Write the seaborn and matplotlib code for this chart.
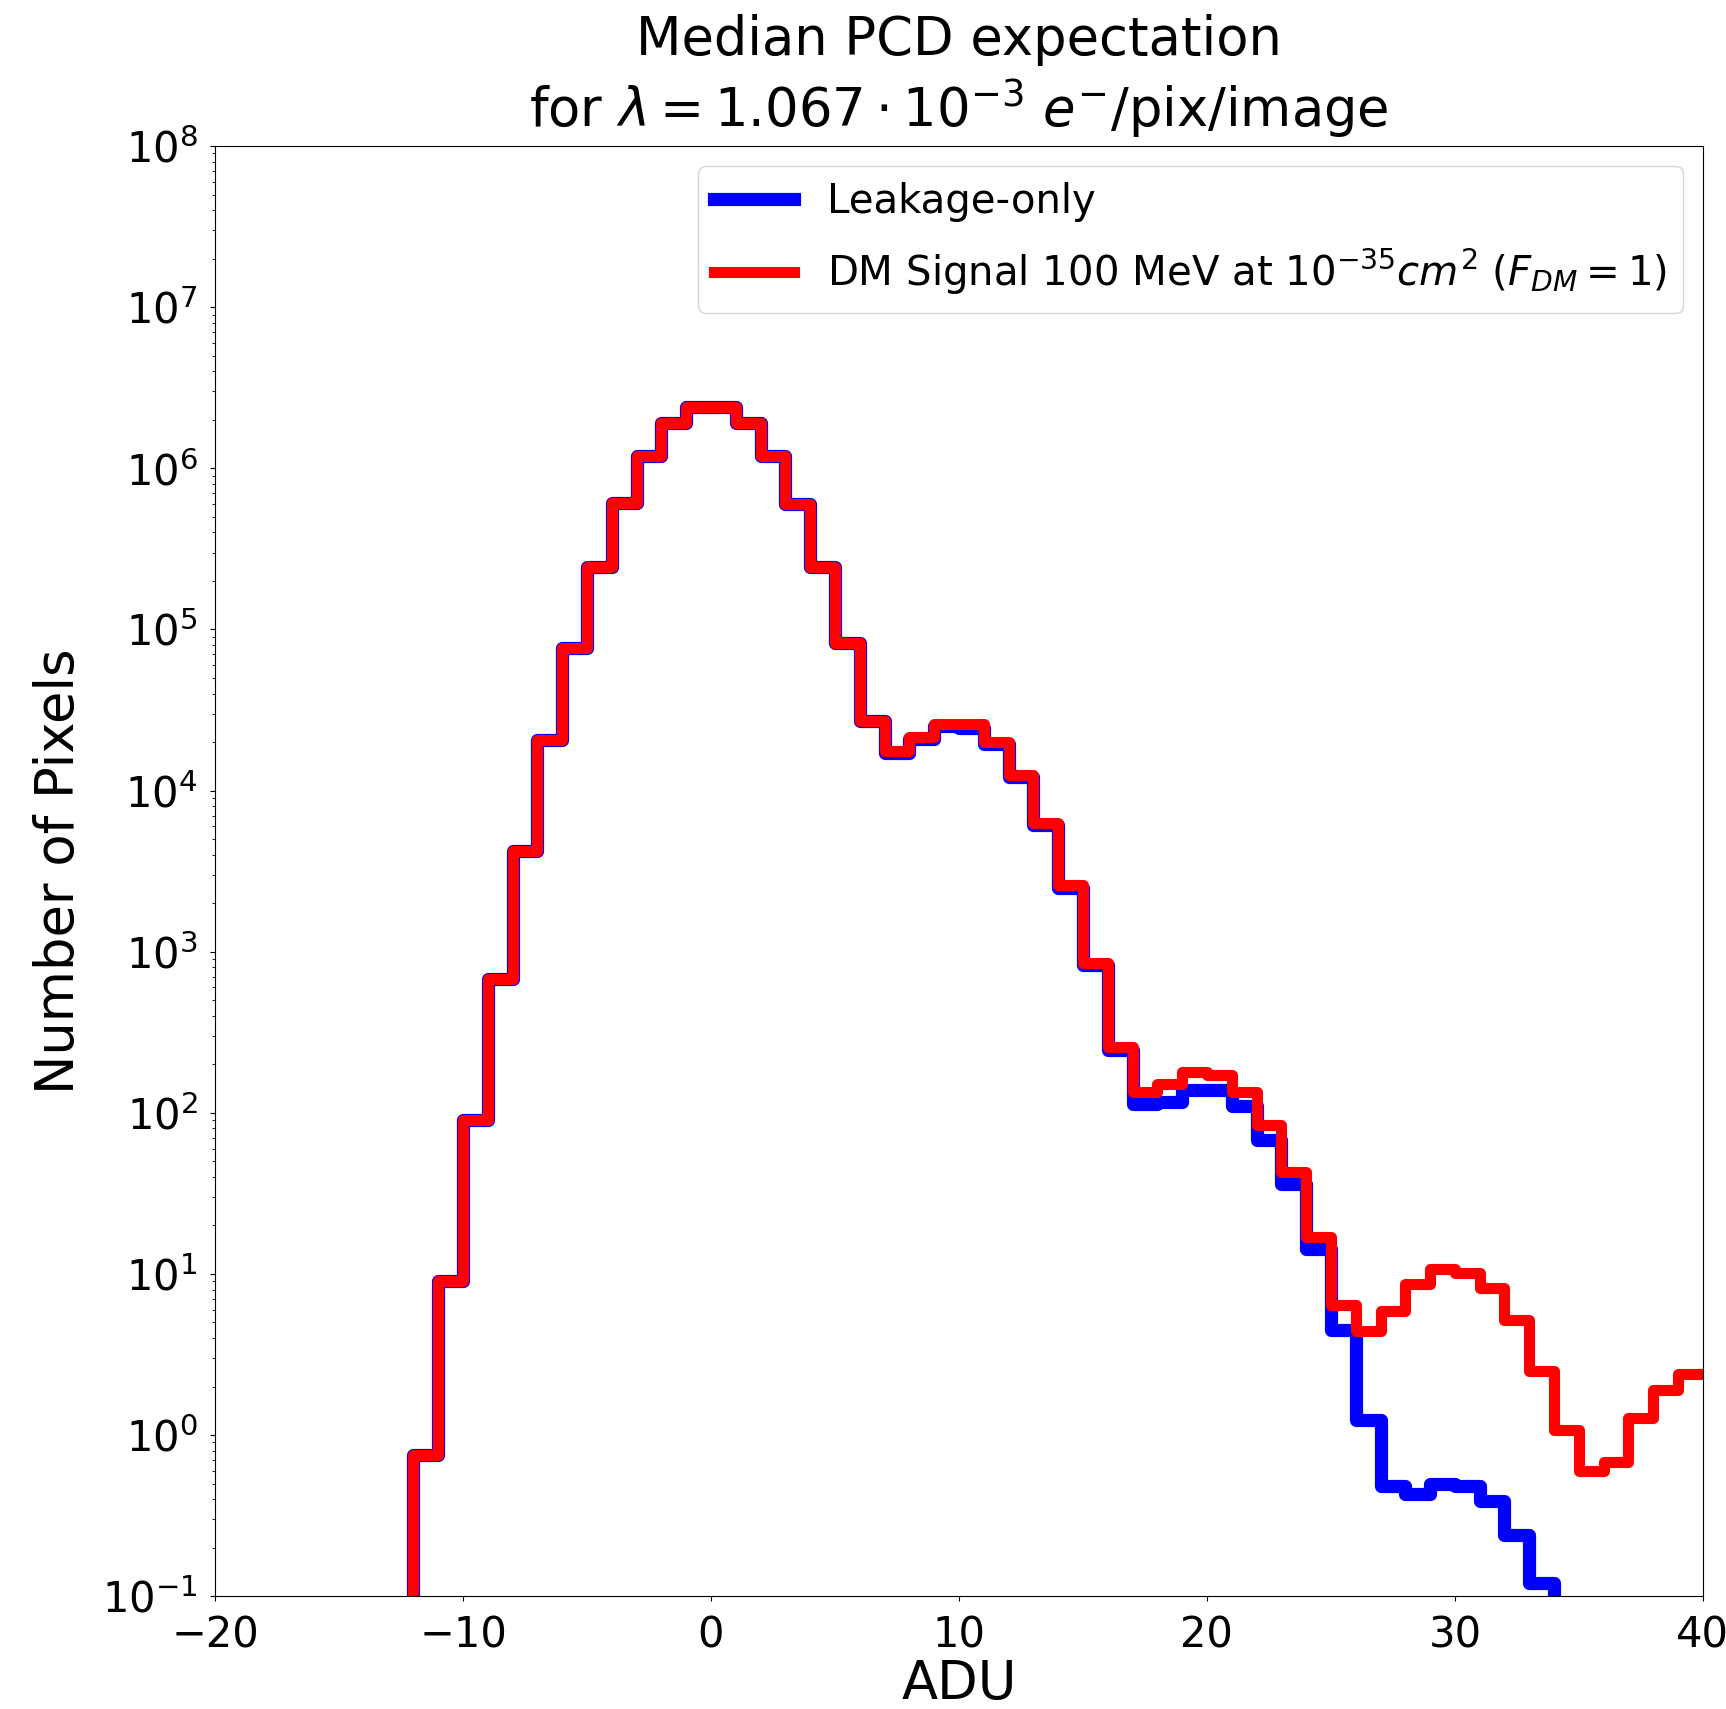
import numpy as np
import pandas as pd
import matplotlib
matplotlib.use("Agg")
import matplotlib.pyplot as plt
import seaborn as sns

# bin edges in ADU (unit width) and per-bin pixel counts
# (the first bin is empty so the step drops to the floor at -12)
bin_left = list(range(-13, 40))

leakage_counts = [
    0, 0.75, 9.0, 90, 680, 4200, 20500, 77000, 245000, 610000, 1.2e6,
    1.9e6, 2.4e6, 2.4e6, 1.9e6, 1.2e6, 6.0e5, 2.45e5, 8.2e4, 2.7e4, 1.72e4,
    2.1e4, 2.5e4, 2.45e4, 1.95e4, 1.22e4, 6.1e3, 2.5e3, 830, 245, 113,
    117, 138, 138, 110, 68, 36, 14.2, 4.5, 1.24, 0.48,
    0.43, 0.5, 0.48, 0.39, 0.24, 0.12, 0, 0, 0, 0,
    0, 0,
]

signal_counts = [
    0, 0.75, 9.0, 90, 680, 4200, 20500, 77000, 245000, 610000, 1.2e6,
    1.9e6, 2.4e6, 2.4e6, 1.9e6, 1.2e6, 6.0e5, 2.45e5, 8.2e4, 2.7e4, 1.75e4,
    2.15e4, 2.6e4, 2.6e4, 2.0e4, 1.25e4, 6.3e3, 2.6e3, 850, 255, 135,
    150, 178, 172, 134, 84, 43, 17, 6.4, 4.4, 5.9,
    8.7, 10.7, 10.2, 8.2, 5.2, 2.5, 1.07, 0.60, 0.68, 1.28,
    1.9, 2.4,
]

labels = ["Leakage-only", r"DM Signal 100 MeV at $10^{-35}cm^2$ ($F_{DM} = 1$)"]

edges = bin_left + [bin_left[-1] + 1]
df = pd.DataFrame({
    "adu": np.array(bin_left) + 0.5,
    "leak": leakage_counts,
    "sig": signal_counts,
})

fig = plt.figure(figsize=(17.26, 17.09), dpi=100)
ax = fig.add_axes([0.1246, 0.066, 0.862, 0.8485])

sns.histplot(data=df, x="adu", weights="leak", bins=edges, element="step",
             fill=False, color="blue", linewidth=9.5, ax=ax, label=labels[0])
sns.histplot(data=df, x="adu", weights="sig", bins=edges, element="step",
             fill=False, color="red", linewidth=8, ax=ax, label=labels[1])

ax.set_yscale("log")
ax.set_xlim(-20, 40)
ax.set_ylim(1e-1, 1e8)
ax.set_yticks([10.0 ** k for k in range(-1, 9)])
ax.set_xticks(range(-20, 41, 10))
ax.tick_params(axis="both", labelsize=30)
ax.tick_params(axis="x", pad=10)
ax.tick_params(axis="y", pad=9)

ax.set_xlabel("ADU", fontsize=38, labelpad=1)
ax.set_ylabel("Number of Pixels", fontsize=38, labelpad=12)
ax.set_title("Median PCD expectation\n"
             r"for $\lambda = 1.067 \cdot 10^{-3}$ $e^{-}$/pix/image",
             fontsize=38, pad=14)

ax.legend(loc="upper right", fontsize=29, handlelength=2.0, labelspacing=0.6)

fig.savefig("out.png", dpi=100)
